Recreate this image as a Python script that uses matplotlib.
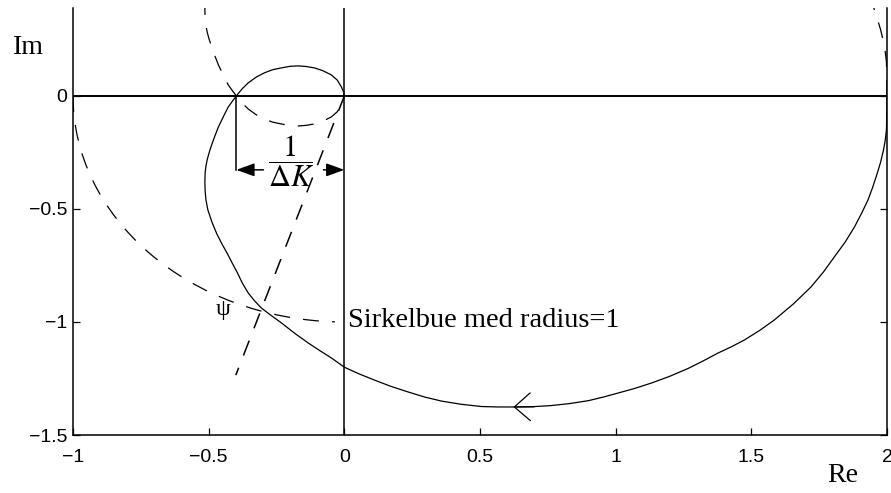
import matplotlib
matplotlib.use("Agg")
import matplotlib.pyplot as plt
from matplotlib.patches import Arc

# Nyquist curve, positive frequencies (from w=0 to w=inf)
nyq_re = [2.000, 1.999, 1.998, 1.993, 1.987, 1.976, 1.962, 1.947, 1.930, 1.906,
          1.880, 1.845, 1.806, 1.765, 1.720, 1.655, 1.585, 1.530, 1.474, 1.426,
          1.378, 1.323, 1.268, 1.200, 1.132, 1.070, 1.010, 0.955, 0.900, 0.830,
          0.760, 0.690, 0.627, 0.565, 0.505, 0.430, 0.358, 0.296, 0.236, 0.172,
          0.111, 0.055, 0.000, -0.048, -0.090, -0.133, -0.183, -0.232, -0.270,
          -0.306, -0.332, -0.354, -0.376, -0.395, -0.413, -0.430, -0.451, -0.470,
          -0.488, -0.503, -0.510, -0.513, -0.514, -0.513, -0.510, -0.505, -0.498,
          -0.490, -0.478, -0.464, -0.446, -0.428, -0.413, -0.398, -0.377, -0.354,
          -0.325, -0.295, -0.264, -0.232, -0.200, -0.170, -0.140, -0.110, -0.078,
          -0.048, -0.026, -0.011, -0.003, 0.000]
nyq_im = [0.000, -0.080, -0.150, -0.200, -0.240, -0.295, -0.350, -0.405, -0.460, -0.520,
          -0.580, -0.648, -0.712, -0.780, -0.845, -0.920, -0.991, -1.038, -1.080, -1.110,
          -1.137, -1.172, -1.205, -1.240, -1.270, -1.294, -1.314, -1.332, -1.348, -1.361,
          -1.370, -1.375, -1.376, -1.376, -1.374, -1.364, -1.350, -1.332, -1.310, -1.285,
          -1.257, -1.230, -1.200, -1.159, -1.127, -1.093, -1.050, -1.004, -0.971,
          -0.938, -0.905, -0.872, -0.828, -0.780, -0.740, -0.700, -0.655, -0.610,
          -0.558, -0.504, -0.460, -0.420, -0.380, -0.340, -0.310, -0.280, -0.250,
          -0.220, -0.180, -0.137, -0.092, -0.049, -0.024, 0.000, 0.031, 0.058,
          0.083, 0.102, 0.116, 0.124, 0.131, 0.133, 0.130, 0.124, 0.111,
          0.093, 0.070, 0.040, 0.018, 0.000]

# unit circle arc and the phase margin ray through the crossing point
circle_radius = 1.0
arc_start, arc_end = 180, 268
ray_re = [0.0, -0.400]
ray_im = [0.0, -1.235]

# gain margin: crossing of the negative real axis
crossing_re = -0.398
margin_level = -0.327

# direction arrow on the curve
arrow_tip = (0.623, -1.376)
arrow_tail = (0.700, -1.375)

xticks = [-1, -0.5, 0, 0.5, 1, 1.5, 2]
yticks = [-1.5, -1, -0.5, 0]

plt.rcParams["mathtext.fontset"] = "stix"
serif = "Liberation Serif"
sans = "Liberation Sans"

W, H = 891, 493
fig = plt.figure(figsize=(W / 100, H / 100), dpi=100)
ax = fig.add_axes([73 / W, 58 / H, 814 / W, 427 / H])

lw = 0.9
dash = (0, (11.5 / lw, 9.5 / lw))

ax.axhline(0, color="black", lw=1.4, zorder=1)
ax.axvline(0, color="black", lw=1.1, zorder=1)

ax.plot(nyq_re, nyq_im, color="black", lw=lw)
ax.plot(nyq_re, [-v for v in nyq_im], color="black", lw=lw, linestyle=dash)

ax.add_patch(Arc((0, 0), 2 * circle_radius, 2 * circle_radius,
                 theta1=arc_start, theta2=arc_end, color="black", lw=lw,
                 linestyle=dash))
ax.plot(ray_re, ray_im, color="black", lw=1.1, linestyle=(0, (11.5 / 1.1, 9.5 / 1.1)))

ax.annotate("", xy=arrow_tip, xytext=arrow_tail,
            arrowprops=dict(arrowstyle="->,head_length=1.15,head_width=1.0",
                            color="black", lw=lw, shrinkA=0, shrinkB=0))

# 1/dK bracket
ax.plot([crossing_re, crossing_re], [0, margin_level], color="black", lw=1.1)
ax.annotate("", xy=(crossing_re, margin_level), xytext=(-0.298, margin_level),
            arrowprops=dict(arrowstyle="-|>,head_length=1.1,head_width=0.4",
                            color="black", lw=1.1, shrinkA=0, shrinkB=0))
ax.annotate("", xy=(0, margin_level), xytext=(-0.077, margin_level),
            arrowprops=dict(arrowstyle="-|>,head_length=1.1,head_width=0.4",
                            color="black", lw=1.1, shrinkA=0, shrinkB=0))
ax.text(-0.195, -0.29, r"$\dfrac{1}{\Delta K}$", fontsize=22,
        ha="center", va="center")

ax.text(-0.446, -0.947, "ψ", family=serif, fontsize=17, ha="center", va="center")
ax.text(0.012, -1.022, "Sirkelbue med radius=1", family=serif, fontsize=20.5,
        ha="left", va="baseline")

ax.set_xlim(-1, 2)
ax.set_ylim(-1.5, 0.389)
ax.set_xticks(xticks)
ax.set_yticks(yticks)
ax.set_xticklabels(["−1", "−0.5", "0", "0.5", "1", "1.5", "2"])
ax.set_yticklabels(["−1.5", "−1", "−0.5", "0"])
ax.tick_params(direction="in", length=5, width=0.9, right=True, top=False,
               labelsize=14)
ax.tick_params(axis="x", pad=10)
ax.tick_params(axis="y", pad=4)
for lab in ax.get_xticklabels() + ax.get_yticklabels():
    lab.set_family(sans)

ax.spines["top"].set_visible(False)
for s in ("left", "right", "bottom"):
    ax.spines[s].set_linewidth(1.1)

fig.text(28 / W, 1 - 48 / H, "Im", family=serif, fontsize=20, ha="center", va="center")
fig.text(843 / W, 1 - 476 / H, "Re", family=serif, fontsize=20, ha="center", va="center")

fig.savefig("out.png", dpi=100)
